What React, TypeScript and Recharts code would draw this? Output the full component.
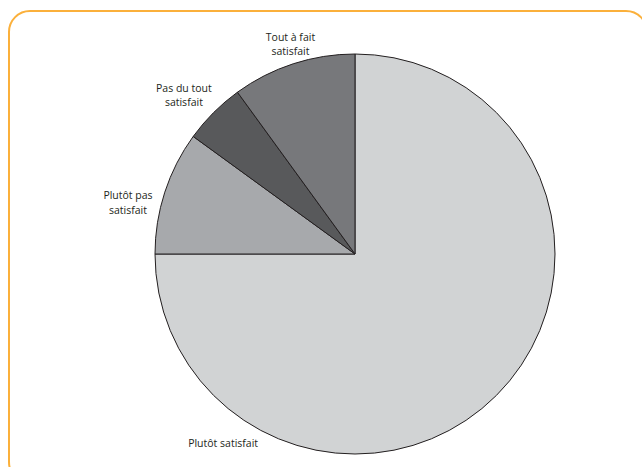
import { PieChart, Pie, Cell } from "recharts";

const CATEGORIES = [
  "Plutôt satisfait",
  "Plutôt pas satisfait",
  "Pas du tout satisfait",
  "Tout à fait satisfait",
];
const SHARES = [75, 10, 5, 10];
const LABEL_LINES = [
  ["Plutôt satisfait"],
  ["Plutôt pas", "satisfait"],
  ["Pas du tout", "satisfait"],
  ["Tout à fait", "satisfait"],
];

const COLORS = ["#d1d3d4", "#a7a9ac", "#58595b", "#77787b"];
// small per-slice shifts from the radial label point
const LABEL_NUDGE: Array<[number, number]> = [
  [-291, 30],
  [-13, 18],
  [-12, 0],
  [5, 4],
];

const data = CATEGORIES.map((name, i) => ({ name, value: SHARES[i] }));

const RAD = Math.PI / 180;

function renderLabel(props: any) {
  const { cx, cy, midAngle, outerRadius, index } = props;
  const r = outerRadius + 25;
  const [dx, dy] = LABEL_NUDGE[index];
  const x = cx + r * Math.cos(-midAngle * RAD) + dx;
  const y = cy + r * Math.sin(-midAngle * RAD) + dy;
  const lines = LABEL_LINES[index];
  const lh = 14.5;
  const top = y - ((lines.length - 1) * lh) / 2;
  return (
    <text
      x={x}
      y={top}
      textAnchor="middle"
      dominantBaseline="central"
      fill="#231f20"
      fontSize={10.5}
      fontFamily="'Open Sans', sans-serif"
    >
      {lines.map((line, k) => (
        <tspan key={k} x={x} y={top + k * lh}>
          {line}
        </tspan>
      ))}
    </text>
  );
}

export default function App() {
  return (
    <div
      style={{
        position: "absolute",
        left: 0,
        top: 0,
        width: 642,
        height: 467,
        overflow: "hidden",
        background: "#ffffff",
      }}
    >
      <div
        style={{
          position: "absolute",
          left: 8,
          top: 10,
          width: 636,
          height: 470,
          border: "2.5px solid #fbb03b",
          borderRadius: 22,
        }}
      />
      <div style={{ position: "absolute", left: 0, top: 0 }}>
        <PieChart
          width={642}
          height={467}
          margin={{ top: 0, right: 0, bottom: 0, left: 0 }}
        >
          <Pie
            data={data}
            dataKey="value"
            nameKey="name"
            cx={355}
            cy={254}
            outerRadius={200}
            startAngle={90}
            endAngle={-270}
            stroke="#231f20"
            strokeWidth={1}
            label={renderLabel}
            labelLine={false}
            isAnimationActive={false}
          >
            {data.map((d, i) => (
              <Cell key={d.name} fill={COLORS[i]} />
            ))}
          </Pie>
        </PieChart>
      </div>
    </div>
  );
}
